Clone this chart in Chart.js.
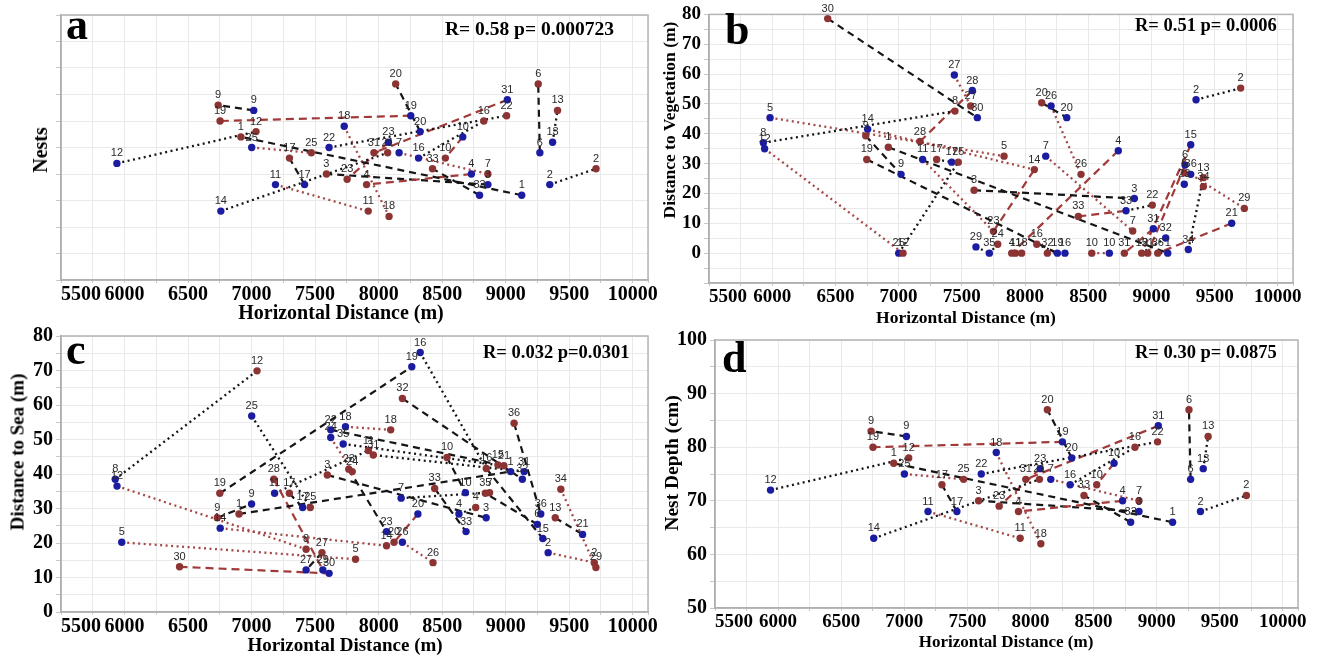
<!DOCTYPE html>
<html><head><meta charset="utf-8">
<script src="https://cdn.jsdelivr.net/npm/chart.js@4/dist/chart.umd.min.js"></script>
<style>
body{margin:0;background:#fff;width:1323px;height:655px;overflow:hidden;position:relative}
.p{position:absolute}
.t{position:absolute;font-family:"Liberation Serif","Times New Roman",serif;font-weight:bold;color:#000;white-space:nowrap;line-height:1}
.c{transform:translate(-50%,-50%)}
.v{transform:translate(-50%,-50%) rotate(-90deg)}
</style></head><body>
<div class="p" style="left:0;top:0"><canvas id="ca"></canvas></div>
<div class="p" style="left:660px;top:0"><canvas id="cb"></canvas></div>
<div class="p" style="left:0;top:320px"><canvas id="cc"></canvas></div>
<div class="p" style="left:660px;top:320px"><canvas id="cd"></canvas></div>
<div class="t" style="left:66px;top:3px;font-size:44px">a</div>
<div class="t" style="left:725px;top:8px;font-size:44px">b</div>
<div class="t" style="left:66px;top:328px;font-size:44px">c</div>
<div class="t" style="left:722px;top:336px;font-size:44px">d</div>
<div class="t" style="left:445px;top:19px;font-size:19.5px">R= 0.58 p= 0.000723</div>
<div class="t" style="left:1135px;top:16px;font-size:18.5px">R= 0.51 p= 0.0006</div>
<div class="t" style="left:483px;top:343px;font-size:18.5px">R= 0.032 p=0.0301</div>
<div class="t" style="left:1135px;top:343px;font-size:18.5px">R= 0.30 p= 0.0875</div>
<div class="t v" style="left:40px;top:150px;font-size:20px">Nests</div>
<div class="t v" style="left:670px;top:120px;font-size:17.5px">Distance to Vegetation (m)</div>
<div class="t v" style="left:17px;top:452px;font-size:19px">Distance to Sea (m)</div>
<div class="t v" style="left:672px;top:463px;font-size:19.5px">Nest Depth (cm)</div>
<div class="t c" style="left:341px;top:312px;font-size:20px">Horizontal Distance (m)</div>
<div class="t c" style="left:966px;top:318px;font-size:17.5px">Horizontal Distance (m)</div>
<div class="t c" style="left:345px;top:644px;font-size:19px">Horizontal Distance (m)</div>
<div class="t c" style="left:1006px;top:641px;font-size:17px">Horizontal Distance (m)</div>
<script>
// ---------- shared axis ticks ----------
const xTicks = [5500,6000,6500,7000,7500,8000,8500,9000,9500,10000];
const depthTicks = [50,60,70,80,90,100];
const vegTicks = [0,10,20,30,40,50,60,70,80];
const seaTicks = [0,10,20,30,40,50,60,70,80];

// ---------- Nest depth (panels a and d) ----------
const depthBlueLabels = ['9','19','12','1','25','17','22','18','14','11','20','23','7','16','10','31','4','33','3','6','13','2'];
const depthBlueX = [7017,8253,5940,9126,7001,7417,7610,7729,6758,7188,8327,8077,8161,8314,8662,9013,8730,8794,8860,9269,9369,9347];
const depthBlueY = [82,81,72,66,75,68,75,79,63,68,78,76,74,73,77,84,70,66,68,74,76,68];
const depthRedLabels = ['9','19','12','1','25','17','22','18','11','3','23','20','31','21','10','16','33','4','7','6','13','2'];
const depthRedX = [6737,6752,7035,6916,7470,7298,9007,8082,7918,7589,7752,8134,7963,8071,8525,8828,8424,7905,8860,9256,9408,9711];
const depthRedY = [83,80,78,77,74,73,81,62,63,70,69,87,74,74,73,80,71,68,70,87,82,71];
const depthLinks = [['b9','r9','kdash'],['b19','r19','rdash'],['b12','r12','kdot'],['b1','r1','kdash'],['b25','r25','rdot'],
 ['b17','r17','kdash'],['b22','r22','kdot'],['b18','r18','rdot'],['b11','r11','rdot'],['b14','r21','kdot'],['b20','r20','kdash'],
 ['b23','r23','rdash'],['b31','r31','rdash'],['b7','r7','rdot'],['b16','r16','kdot'],['b10','r10','rdash'],['b33','r33','kdash'],
 ['b4','r4','rdash'],['b3','r3','kdash'],['b6','r6','kdash'],['b13','r13','kdot'],['b2','r2','kdot']];

// ---------- Distance to vegetation (panel b) ----------
const vegBlueLabels = ['5','12','8','14','9','25','11','17','27','28','30','29','26','20','7','2','15','4','6','36','23','3','33','31','32','34','21','19','16','10','1','35'];
const vegBlueX = [5983,5940,5930,6755,7019,7001,7190,7420,7441,7583,7623,7612,8206,8330,8164,9353,9311,8738,9266,9311,9260,8865,8799,9015,9113,9292,9635,8256,8316,8667,9129,7718];
const vegBlueY = [45.4,35,37,41.5,26.4,0,31.4,30.5,59.7,54.5,45.4,2.1,49.3,45.4,32.5,51.4,36.3,34.3,29.5,26.4,23.1,18.3,14.2,8.2,5.1,1.2,10,0,0,0,0,0];
const vegRedLabels = ['30','27','8','9','28','1','19','17','25','5','3','23','24','12','20','26','14','7','22','33','13','34','29','2','6','4','11','18','32','16','10','31','15','21','36'];
const vegRedX = [6439,7570,7446,6740,7169,6919,6748,7301,7472,7834,7597,7750,7784,7035,8132,8443,8074,8852,9007,8422,9411,9411,9735,9706,9260,7895,7925,7973,8177,8093,8528,8786,8923,8971,9050];
const vegRedY = [78.6,49.3,47.6,39.3,37.4,35.5,31.4,31.4,30.5,32.5,21.1,7.3,3,0,50.4,26.4,28,7.4,16.1,12.3,25.3,22.3,15,55.3,26.9,0,0,0,0,3,0,0,0,0,0];
const vegLinks = [['r30','b30','kdash'],['b27','r27','rdot'],['b8','r8','kdot'],['b12','r12','rdot'],['b5','r5','rdot'],
 ['b14','r14','rdot'],['r9','b9','kdash'],['r19','b19','kdash'],['r1','b1','kdash'],['b25','r25','kdot'],['r28','b28','rdash'],
 ['r17','b17','kdot'],['r3','b3','kdash'],['r20','b20','kdash'],['b26','r26','rdot'],['b7','r7','rdot'],['b4','r4','rdash'],
 ['b2','r2','kdot'],['b15','r15','rdash'],['b6','r21','rdash'],['b36','r29','rdot'],['r13','b34','kdot'],['b21','r36','rdash'],
 ['b33','r22','kdot'],['r33','b33','rdash'],['r23','r14','rdash'],['b11','r23','rdot'],['b29','b35','kdot'],['r24','b35','kdot'],
 ['r32','b16','rdot'],['r10','b10','rdot'],['b31','r31','rdash'],['b32','r15','kdot'],['b1','r36','kdot'],['r16','b19','kdot']];

// ---------- Distance to sea (panel c) ----------
const seaBlueLabels = ['8','12','5','25','9','14','11','17','27','29','30','22','24','18','35','19','16','23','26','20','7','10','4','3','31','32','1','36','6','15','2','21','33'];
const seaBlueX = [5927,5941,5978,7001,7000,6753,7181,7402,7429,7561,7610,7623,7623,7739,7721,8261,8327,8062,8187,8309,8177,8683,8632,8846,9145,9131,9039,9276,9249,9292,9334,9605,8688];
const seaBlueY = [38.5,36.5,20.2,56.8,31.3,24.3,34.4,30.3,12.2,12.2,11.2,52.8,50.6,53.7,48.7,71.1,75.2,23.3,20.2,28.4,33,34.6,28.4,27.3,40.7,38.5,40.7,28.4,25.4,21.3,17.2,22.5,23.3];
const seaRedLabels = ['12','19','28','9','1','17','25','8','27','5','30','3','14','20','26','32','18','31','11','24','23','10','16','15','21','36','34','33','7','35','4','13','2','29'];
const seaRedX = [7043,6750,7175,6730,6901,7297,7462,7429,7554,7818,6433,7596,8062,8121,8428,8187,8095,7958,7919,7792,7765,8538,8847,8939,8986,9066,9434,8441,8873,8840,8764,9390,9697,9710];
const seaRedY = [69.9,34.4,38.5,27.3,28.4,34.4,30.3,18.2,17.2,15.3,13.1,39.7,19.2,20.2,14.3,61.9,52.8,45.5,46.8,40.7,41.4,44.8,41.6,42.6,42.4,54.7,35.6,35.8,34.6,34.4,30.3,27.3,14.3,12.9];
const seaLinks = [['b8','r12','kdot'],['b12','r8','rdot'],['b25','r25','kdot'],['r19','b19','kdash'],['r9','b9','kdash'],
 ['r1','b1','kdash'],['b14','r14','rdot'],['b5','r5','rdot'],['r30','b30','rdash'],['r28','b29','rdash'],['r27','b27','kdash'],
 ['r17','b17','kdash'],['r3','b3','kdash'],['b22','r21','kdash'],['b18','r18','rdot'],['b35','r15','kdot'],['r32','b32','kdash'],
 ['b16','r16','kdot'],['r36','b36','kdash'],['r23','b23','kdash'],['b20','r20','rdash'],['b26','r26','rdot'],['r10','b10','kdash'],
 ['b7','r7','kdot'],['r33','b33','kdash'],['b2','r2','rdot'],['r34','r29','rdot'],['r13','b21','kdash'],['b11','r11','kdot'],
 ['b24','r24','rdot'],['r16','b15','kdash'],['b4','r4','kdot'],['b6','r35','kdash'],['b31','r31','kdot']];

// ---------- rendering ----------
const X_MIN = 5500, X_MAX = 10120;
const STYLES = {
  kdash:{color:'#151515',width:2.2,dash:[7,5]},
  kdot:{color:'#151515',width:2.3,dash:[2,3.5]},
  rdash:{color:'#a23a3a',width:2.2,dash:[8,5]},
  rdot:{color:'#a54848',width:2.3,dash:[2,3.5]}
};
const COL = {blue:'#1c1ca0', red:'#8c3434'};
const SERIF = '"Liberation Serif","Times New Roman",serif';

const boxPlugin = {
  id:'box',
  beforeDraw(chart){
    const a=chart.chartArea, c=chart.ctx;
    c.save(); c.fillStyle='#fff'; c.fillRect(a.left,a.top,a.right-a.left,a.bottom-a.top); c.restore();
  },
  afterDraw(chart){
    const a=chart.chartArea, c=chart.ctx;
    c.save(); c.strokeStyle='#b4b4b4'; c.lineWidth=1.5;
    c.strokeRect(a.left,a.top,a.right-a.left,a.bottom-a.top); c.restore();
  }
};
const labelPlugin = {
  id:'ptlabels',
  afterDatasetsDraw(chart){
    const c=chart.ctx;
    c.save();
    c.font='11px "Liberation Sans Narrow","Liberation Sans",Arial,sans-serif';
    c.fillStyle='#2a2a2a'; c.textAlign='center'; c.textBaseline='alphabetic';
    chart.data.datasets.forEach((ds,di)=>{
      if(!ds.ptLabels) return;
      chart.getDatasetMeta(di).data.forEach((el,i)=>{ c.fillText(ds.ptLabels[i], el.x, el.y-7); });
    });
    c.restore();
  }
};

function withHalves(ticks){
  const out=[];
  for(let i=0;i<ticks.length;i++){ out.push(ticks[i]); if(i<ticks.length-1) out.push((ticks[i]+ticks[i+1])/2); }
  return out;
}

function makePanel(id, cfg){
  const cv=document.getElementById(id);
  cv.width=cfg.w; cv.height=cfg.h; cv.style.width=cfg.w+'px'; cv.style.height=cfg.h+'px';
  const find=(key)=>{ const s=key[0]==='b'?cfg.blue:cfg.red; const i=s.labels.indexOf(key.slice(1)); return {x:s.x[i], y:s.y[i]}; };
  const datasets=[];
  cfg.links.forEach(([a,b,st])=>{
    const S=STYLES[st];
    datasets.push({data:[find(a),find(b)], showLine:true, borderColor:S.color, borderWidth:S.width, borderDash:S.dash,
      borderCapStyle:'butt', pointRadius:0, pointHoverRadius:0, fill:false, order:2});
  });
  ['red','blue'].forEach(c=>{
    const s=cfg[c];
    datasets.push({data:s.x.map((x,i)=>({x, y:s.y[i]})), ptLabels:s.labels, showLine:false,
      backgroundColor:COL[c], borderColor:COL[c], borderWidth:0, pointRadius:3.7, order:1});
  });
  const yGrid = withHalves(cfg.yTicks);
  if(cfg.yMin < cfg.yTicks[0]) { yGrid.unshift(cfg.yTicks[0]-5); yGrid.unshift(cfg.yMin); }
  const xGrid = withHalves(xTicks).concat([X_MAX]);
  new Chart(cv,{
    type:'scatter',
    data:{datasets},
    plugins:[boxPlugin,labelPlugin],
    options:{
      responsive:false, animation:false, devicePixelRatio:1,
      layout:{padding:{left:0, top:cfg.area.top, right:cfg.w-cfg.area.right, bottom:0}},
      plugins:{legend:{display:false}, tooltip:{enabled:false}},
      scales:{
        x:{type:'linear', min:X_MIN, max:X_MAX,
          afterBuildTicks:s=>{ s.ticks=xGrid.map(v=>({value:v})); },
          afterFit:s=>{ s.height=cfg.h-cfg.area.bottom; },
          grid:{color:'#e9e9e9', lineWidth:1, tickLength:3, tickColor:'#c8c8c8'},
          border:{color:'#a0a0a0', width:1.5},
          ticks:{autoSkip:false, maxRotation:0, padding:0, color:'#000', align:'inner',
            font:{family:SERIF, size:cfg.xFont, weight:'bold'},
            callback:v=> xTicks.includes(v) ? String(v) : ''},
          title:{display:false}
        },
        y:{type:'linear', min:cfg.yMin, max:cfg.yMax,
          afterBuildTicks:s=>{ s.ticks=yGrid.map(v=>({value:v})); },
          afterFit:s=>{ s.width=cfg.area.left; },
          grid:{color:'#e9e9e9', lineWidth:1, tickLength:5, tickColor:'#c8c8c8'},
          border:{color:'#a0a0a0', width:1.5},
          ticks:{autoSkip:false, padding:3, color:'#000',
            font:{family:SERIF, size:cfg.yFont, weight:'bold'},
            callback:v=> (cfg.showYLabels && cfg.yTicks.includes(v)) ? String(v) : ''},
          title:{display:false}
        }
      }
    }
  });
}

const depthBlue = {labels:depthBlueLabels, x:depthBlueX, y:depthBlueY};
const depthRed = {labels:depthRedLabels, x:depthRedX, y:depthRedY};

makePanel('ca',{w:660,h:320,area:{left:61,right:648,top:7,bottom:280},yMin:50,yMax:100,yTicks:depthTicks,showYLabels:false,
  xFont:20,yFont:20, blue:depthBlue, red:depthRed, links:depthLinks});
makePanel('cb',{w:663,h:325,area:{left:49,right:633,top:11,bottom:283},yMin:-10,yMax:80,yTicks:vegTicks,showYLabels:true,
  xFont:19,yFont:19, blue:{labels:vegBlueLabels,x:vegBlueX,y:vegBlueY}, red:{labels:vegRedLabels,x:vegRedX,y:vegRedY}, links:vegLinks});
makePanel('cc',{w:660,h:335,area:{left:61,right:648,top:16,bottom:292},yMin:0,yMax:80,yTicks:seaTicks,showYLabels:true,
  xFont:20,yFont:20, blue:{labels:seaBlueLabels,x:seaBlueX,y:seaBlueY}, red:{labels:seaRedLabels,x:seaRedX,y:seaRedY}, links:seaLinks});
makePanel('cd',{w:663,h:335,area:{left:55,right:638,top:20,bottom:288},yMin:50,yMax:100,yTicks:depthTicks,showYLabels:true,
  xFont:19,yFont:20, blue:depthBlue, red:depthRed, links:depthLinks});
</script>
</body></html>
